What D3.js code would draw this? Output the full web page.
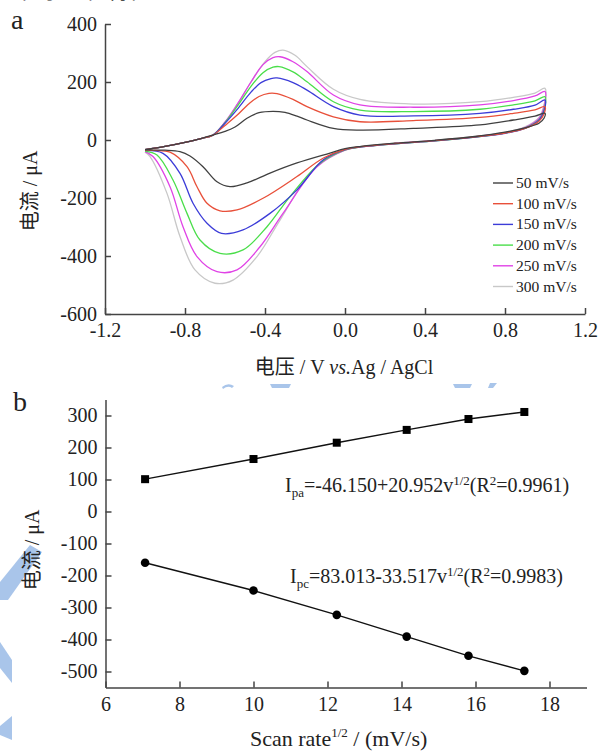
<!DOCTYPE html>
<html>
<head>
<meta charset="utf-8">
<title>CV scan rate</title>
<script src="https://cdn.jsdelivr.net/npm/d3@7"></script>
<style>
  body { margin: 0; background: #fff; }
  svg text { font-family: "Liberation Serif", "Times New Roman", serif; fill: #222; }
  svg .cjk { font-family: "Noto Sans CJK SC", sans-serif; }
  .axis path, .axis line { stroke: #444; stroke-width: 1.5; }
</style>
</head>
<body>
<script>
  // scan rates and colours of the curves
  const rates = ["50 mV/s", "100 mV/s", "150 mV/s", "200 mV/s", "250 mV/s", "300 mV/s"];
  const colors = ["#404040", "#e8503a", "#3c3cd8", "#4ade4a", "#e042e6", "#c8c8c8"];

  // panel a: anodic sweep (-1.0 -> 1.0 V) and cathodic sweep (1.0 -> -1.0 V), [V, µA]
  const up50 = [[-1.0,-33],[-0.9,-22],[-0.8,-8],[-0.72,5],[-0.66,17],[-0.6,30],[-0.55,45],[-0.49,75],[-0.43,94],[-0.36,99],[-0.3,95],[-0.24,82],[-0.19,69],[-0.058,40],[0.075,34],[0.342,40],[0.675,52],[0.842,69],[0.95,82],[1.0,92]];
  const down50 = [[0.995,75],[0.97,58],[0.9,42],[0.8,27],[0.65,12],[0.45,-1],[0.25,-11],[0.08,-22],[0.0,-30],[-0.075,-45],[-0.24,-79],[-0.375,-114],[-0.49,-148],[-0.575,-161],[-0.64,-144],[-0.71,-92],[-0.775,-55],[-0.825,-40],[-0.9,-35],[-1.0,-34]];

  const up100 = [[-1.0,-33],[-0.9,-22],[-0.8,-8],[-0.72,5],[-0.66,17],[-0.6,50],[-0.54,85],[-0.48,125],[-0.43,150],[-0.38,161],[-0.34,160],[-0.26,140],[-0.19,115],[-0.058,80],[0.075,63],[0.342,67],[0.675,78],[0.842,92],[0.95,104],[1.0,115]];
  const down100 = [[0.995,90],[0.97,65],[0.9,40],[0.8,24],[0.65,11],[0.45,-2],[0.25,-12],[0.08,-23],[0.0,-32],[-0.11,-63],[-0.24,-126],[-0.41,-201],[-0.54,-241],[-0.625,-244],[-0.69,-218],[-0.74,-161],[-0.79,-92],[-0.875,-42],[-0.95,-36],[-1.0,-35]];

  const up150 = [[-1.0,-33],[-0.9,-22],[-0.8,-8],[-0.72,5],[-0.66,17],[-0.6,58],[-0.54,105],[-0.47,165],[-0.42,198],[-0.37,212],[-0.34,214],[-0.26,198],[-0.19,172],[-0.058,115],[0.075,86],[0.342,83],[0.675,92],[0.842,106],[0.95,120],[1.0,138]];
  const down150 = [[0.995,100],[0.97,68],[0.9,40],[0.8,23],[0.65,10],[0.45,-3],[0.25,-13],[0.08,-24],[0.0,-33],[-0.11,-69],[-0.24,-172],[-0.375,-253],[-0.51,-310],[-0.617,-322],[-0.69,-287],[-0.76,-218],[-0.825,-115],[-0.91,-46],[-1.0,-36]];

  const up200 = [[-1.0,-33],[-0.9,-22],[-0.8,-8],[-0.72,5],[-0.66,17],[-0.6,60],[-0.54,115],[-0.47,185],[-0.41,232],[-0.36,251],[-0.33,253],[-0.26,235],[-0.19,201],[-0.058,132],[0.075,103],[0.342,98],[0.675,106],[0.842,121],[0.95,135],[1.0,149]];
  const down200 = [[0.995,105],[0.97,70],[0.9,41],[0.8,24],[0.65,10],[0.45,-3],[0.25,-13],[0.08,-24],[0.0,-34],[-0.125,-80],[-0.275,-195],[-0.39,-299],[-0.51,-379],[-0.625,-391],[-0.725,-345],[-0.79,-253],[-0.86,-138],[-0.94,-52],[-1.0,-38]];

  const up250 = [[-1.0,-33],[-0.9,-22],[-0.8,-8],[-0.72,5],[-0.66,17],[-0.6,62],[-0.54,122],[-0.47,200],[-0.41,260],[-0.36,284],[-0.325,287],[-0.26,270],[-0.19,236],[-0.058,155],[0.075,121],[0.342,113],[0.675,121],[0.842,136],[0.95,152],[1.0,167]];
  const down250 = [[0.995,115],[0.97,74],[0.9,43],[0.8,25],[0.65,11],[0.45,-2],[0.25,-12],[0.08,-24],[0.0,-35],[-0.14,-92],[-0.31,-253],[-0.425,-368],[-0.54,-448],[-0.64,-454],[-0.74,-402],[-0.81,-299],[-0.875,-161],[-0.96,-57],[-1.0,-40]];

  const up300 = [[-1.0,-33],[-0.9,-22],[-0.8,-8],[-0.72,5],[-0.66,17],[-0.6,60],[-0.54,120],[-0.47,200],[-0.4,270],[-0.35,302],[-0.31,310],[-0.25,292],[-0.19,253],[-0.058,175],[0.075,140],[0.342,124],[0.675,132],[0.842,147],[0.95,162],[1.0,178]];
  const down300 = [[0.995,120],[0.97,78],[0.9,45],[0.8,26],[0.65,12],[0.45,-1],[0.25,-11],[0.08,-23],[0.0,-35],[-0.16,-103],[-0.325,-276],[-0.44,-402],[-0.56,-483],[-0.65,-494],[-0.75,-448],[-0.825,-333],[-0.89,-184],[-0.975,-57],[-1.0,-42]];

  const ticksVA = [-1.2, -0.8, -0.4, 0.0, 0.4, 0.8, 1.2];
  const ticksIA = [-600, -400, -200, 0, 200, 400];

  // panel b: square root of scan rate vs peak currents
  const sqrtRate = [7.07, 10.0, 12.25, 14.14, 15.81, 17.32];
  const ipa = [101, 164, 215, 255, 289, 311];
  const ipc = [-160, -247, -323, -391, -451, -498];
  const ticksXB = [6, 8, 10, 12, 14, 16, 18];
  const ticksYB = [-500, -400, -300, -200, -100, 0, 100, 200, 300];

  const curves = [up50, up100, up150, up200, up250, up300].map((u, i) => ({
    rate: rates[i], color: colors[i],
    pts: u.concat([down50, down100, down150, down200, down250, down300][i])
  }));

  const width = 599, height = 751;
  const svg = d3.select("body").append("svg")
    .attr("width", width).attr("height", height);

  // plain hyphen for negative tick labels, like the original
  const hy = s => String(s).replace("\u2212", "-");

  // watermark fragments of the page behind the figure
  const wm = svg.append("g").attr("fill", "#a9c5ea").attr("stroke", "none");
  wm.append("path").attr("d", "M30,545 L42,552 L8,600 L0,600 L0,582 Z");
  wm.append("path").attr("d", "M0,642 L12,660 L12,683 L0,668 Z");
  wm.append("path").attr("d", "M12,716 L0,726 L0,735 L12,740 Z");
  wm.append("path").attr("d", "M222,387 Q228,382 234,386 L232,388 Q228,385 223,389 Z");
  wm.append("path").attr("d", "M270,384 L291,384 L289,388 L272,388 Z");
  wm.append("path").attr("d", "M453,384 L472,384 L470,388 L455,388 Z");
  wm.append("path").attr("d", "M490,383 L497,383 L493,388 L488,388 Z");

  // cut off line of page text above the figure
  svg.append("text").attr("class", "cjk").attr("x", -3).attr("y", -2)
    .attr("font-size", 22).text("电化学过程特征");

  // ---------------- panel a ----------------
  const xA = d3.scaleLinear().domain([-1.2, 1.2]).range([105, 585]);
  const yA = d3.scaleLinear().domain([-600, 400]).range([314, 24]);

  svg.append("g").attr("class", "axis")
    .attr("transform", "translate(105,0)")
    .call(d3.axisLeft(yA).tickValues(ticksIA).tickFormat(d => hy(d)).tickSize(-6).tickSizeOuter(0).tickPadding(8))
    .call(g => g.selectAll("text").attr("font-size", 20).attr("fill", "#222"));

  svg.append("g").attr("class", "axis")
    .attr("transform", "translate(0,314)")
    .call(d3.axisBottom(xA).tickValues(ticksVA).tickFormat(d => hy(d.toFixed(1))).tickSize(-6).tickSizeOuter(0).tickPadding(9))
    .call(g => g.selectAll("text").attr("font-size", 20).attr("fill", "#222"));

  const line = d3.line().x(d => xA(d[0])).y(d => yA(d[1])).curve(d3.curveCatmullRom.alpha(0.5));
  svg.append("g").selectAll("path")
    .data(curves.slice().reverse())
    .join("path")
    .attr("d", d => line(d.pts))
    .attr("fill", "none")
    .attr("stroke", d => d.color)
    .attr("stroke-width", 1.3);

  // legend
  const leg = svg.append("g").selectAll("g").data(curves).join("g")
    .attr("transform", (d, i) => `translate(493,${183 + i * 20.7})`);
  leg.append("line").attr("x1", 0).attr("x2", 20)
    .attr("stroke", d => d.color).attr("stroke-width", 1.4);
  leg.append("text").attr("x", 23).attr("y", 5).attr("font-size", 15.5).text(d => d.rate);

  svg.append("text").attr("x", 11).attr("y", 29).attr("font-size", 28).text("a");

  svg.append("text").attr("transform", "translate(37,191) rotate(-90)")
    .attr("text-anchor", "middle").attr("font-size", 20)
    .call(t => {
      t.append("tspan").attr("class", "cjk").text("电流");
      t.append("tspan").text(" / μA");
    });

  svg.append("text").attr("x", 344).attr("y", 374).attr("text-anchor", "middle").attr("font-size", 20)
    .call(t => {
      t.append("tspan").attr("class", "cjk").text("电压");
      t.append("tspan").text(" / V ");
      t.append("tspan").attr("font-style", "italic").text("vs.");
      t.append("tspan").text("Ag / AgCl");
    });

  // ---------------- panel b ----------------
  const xB = d3.scaleLinear().domain([6, 19]).range([105.5, 586.5]);
  const yB = d3.scaleLinear().domain([-550, 350]).range([687.5, 399.5]);

  svg.append("g").attr("class", "axis")
    .attr("transform", "translate(105.5,0)")
    .call(d3.axisLeft(yB).tickValues(ticksYB).tickFormat(d => hy(d)).tickSize(-6).tickSizeOuter(0).tickPadding(8))
    .call(g => g.selectAll("text").attr("font-size", 20).attr("fill", "#222"));

  svg.append("g").attr("class", "axis")
    .attr("transform", "translate(0,687.5)")
    .call(d3.axisBottom(xB).tickValues(ticksXB).tickSize(-6).tickSizeOuter(0).tickPadding(9))
    .call(g => g.selectAll("text").attr("font-size", 20).attr("fill", "#222"));

  const pa = sqrtRate.map((x, i) => [x, ipa[i]]);
  const pc = sqrtRate.map((x, i) => [x, ipc[i]]);
  const lineB = d3.line().x(d => xB(d[0])).y(d => yB(d[1]));

  svg.append("path").attr("d", lineB(pa)).attr("fill", "none").attr("stroke", "#111").attr("stroke-width", 1.4);
  svg.append("path").attr("d", lineB(pc)).attr("fill", "none").attr("stroke", "#111").attr("stroke-width", 1.4);

  svg.append("g").selectAll("rect").data(pa).join("rect")
    .attr("x", d => xB(d[0]) - 4).attr("y", d => yB(d[1]) - 4)
    .attr("width", 8).attr("height", 8).attr("fill", "#000");
  svg.append("g").selectAll("circle").data(pc).join("circle")
    .attr("cx", d => xB(d[0])).attr("cy", d => yB(d[1]))
    .attr("r", 4.3).attr("fill", "#000");

  function equation(x, y, sub, a, b) {
    svg.append("text").attr("x", x).attr("y", y).attr("font-size", 20)
      .call(t => {
        t.append("tspan").text("I");
        t.append("tspan").attr("font-size", 13).attr("dy", 5).text(sub);
        t.append("tspan").attr("dy", -5).text(a);
        t.append("tspan").attr("font-size", 13).attr("dy", -7).text("1/2");
        t.append("tspan").attr("dy", 7).text("(R");
        t.append("tspan").attr("font-size", 13).attr("dy", -7).text("2");
        t.append("tspan").attr("dy", 7).text(b);
      });
  }
  equation(285, 492, "pa", "=-46.150+20.952v", "=0.9961)");
  equation(290, 583, "pc", "=83.013-33.517v", "=0.9983)");

  svg.append("text").attr("x", 13).attr("y", 411).attr("font-size", 28).text("b");

  svg.append("text").attr("transform", "translate(39,550) rotate(-90)")
    .attr("text-anchor", "middle").attr("font-size", 20)
    .call(t => {
      t.append("tspan").attr("class", "cjk").text("电流");
      t.append("tspan").text(" / μA");
    });

  svg.append("text").attr("x", 250).attr("y", 746).attr("font-size", 22)
    .call(t => {
      t.append("tspan").text("Scan rate");
      t.append("tspan").attr("font-size", 13).attr("dy", -9).text("1/2");
      t.append("tspan").attr("dy", 9).text(" / (mV/s)");
    });
</script>
</body>
</html>
